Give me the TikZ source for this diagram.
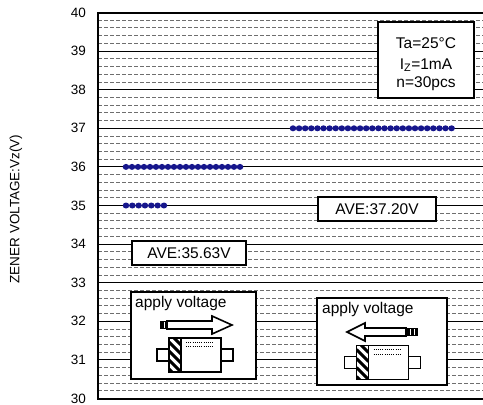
\documentclass[tikz,border=0pt]{standalone}
\usepackage{fontspec}
\setmainfont{Liberation Sans}
\definecolor{dotblue}{RGB}{22,22,140}
\definecolor{gridgray}{RGB}{110,110,110}
\tikzset{
  gridminor/.style={draw=gridgray, line width=0.9pt, dash pattern=on 4pt off 2pt},
  gridmajor/.style={draw=black, line width=0.9pt},
  frameline/.style={draw=black, line width=2pt},
  ticklabel/.style={anchor=east, inner sep=0pt, font=\fontsize{13.5}{15}\selectfont},
  databox/.style={draw=black, line width=1.4pt, fill=white, inner sep=0pt},
  boxtext/.style={inner sep=0pt, font=\fontsize{15.5}{18}\selectfont},
  dotmark/.style={fill=dotblue},
  symline/.style={draw=black, line width=1.6pt},
}
\newcommand{\mydiode}[2]{%
  \begin{scope}[shift={(#1,#2)}]
    \filldraw[symline, fill=white] (-38,-6) rectangle (-26,6);
    \filldraw[symline, fill=white] (26,-6) rectangle (38,6);
    \filldraw[symline, fill=white] (-26,-17) rectangle (26,17);
    \begin{scope}
      \clip (-26,-17) rectangle (-14,17);
      \foreach \s in {-40,-31,...,40} {
        \draw[line width=3pt] (-26,\s) -- (-14,\s+12);
      }
    \end{scope}
    \draw[symline] (-26,-17) rectangle (-14,17);
    \draw[symline] (-26,-17) rectangle (26,17);
    \draw[line width=1pt, dash pattern=on 1pt off 1.2pt] (-9,-13) -- (18,-13);
    \draw[line width=1pt, dash pattern=on 1pt off 1.2pt] (-9,-8.5) -- (18,-8.5);
  \end{scope}}
\begin{document}
\begin{tikzpicture}[x=1pt,y=-1pt]
\useasboundingbox (0,0) rectangle (483,405);
% grid
\foreach \i in {1,...,49} {
  \pgfmathsetmacro\yy{12.5+\i*38.6/5}
  \draw[gridminor] (98,\yy) -- (483,\yy);
}
\foreach \k in {1,...,9} {
  \pgfmathsetmacro\yy{12.5+\k*38.6}
  \draw[gridmajor] (98,\yy) -- (483,\yy);
}
\draw[frameline] (484,12.5) -- (98,12.5) -- (98,398.5) -- (484,398.5);
% tick labels
\foreach \v in {30,...,40} {
  \pgfmathsetmacro\yy{12.5+(40-\v)*38.6}
  \node[ticklabel] (tick\v) at (86,\yy) {\v};
}
\node[rotate=90, inner sep=0pt, font=\fontsize{13.5}{16}\selectfont] (ytitle) at (16,209) {ZENER VOLTAGE:Vz(V)};
% data
\pgfmathsetmacro\ya{12.5+4*38.6}
\pgfmathsetmacro\yb{12.5+5*38.6}
\pgfmathsetmacro\yc{12.5+3*38.6}
\foreach \k in {0,...,19} { \fill[dotmark] (126+\k*6.0,\ya) ellipse (3.3 and 3.0); }
\foreach \k in {0,...,6} { \fill[dotmark] (126+\k*6.33,\yb) ellipse (3.3 and 3.0); }
\foreach \k in {0,...,26} { \fill[dotmark] (293+\k*6.1,\yc) ellipse (3.3 and 3.0); }
% info box
\node[databox, minimum width=96pt, minimum height=76pt] (info) at (426,60) {};
\node[boxtext] (ta) at (426,43) {Ta=25°C};
\node[boxtext] (iz) at (426,65) {I\textsubscript{Z}=1mA};
\node[boxtext] (nn) at (426,84) {n=30pcs};
% average boxes
\node[databox, minimum width=114pt, minimum height=24pt, boxtext] (ave1) at (189,253) {AVE:35.63V};
\node[databox, minimum width=118pt, minimum height=24pt, boxtext] (ave2) at (377,209) {AVE:37.20V};
% apply voltage boxes
\node[databox, minimum width=125pt, minimum height=87pt] (app1) at (193.5,335.5) {};
\node[databox, minimum width=130pt, minimum height=87pt] (app2) at (382,341.5) {};
\node[boxtext, anchor=west] (app1t) at (135,303) {apply voltage};
\node[boxtext, anchor=west] (app2t) at (322,309) {apply voltage};
% arrow right
\filldraw[symline, fill=white] (167,321) -- (212,321) -- (212,316) -- (232,325) -- (212,334) -- (212,329) -- (167,329) -- cycle;
\fill (160,321) rectangle (167,329);
\draw[white, line width=0.8pt] (164.5,322) -- (164.5,328);
% arrow left
\filldraw[symline, fill=white] (406,328) -- (365,328) -- (365,323) -- (347,332) -- (365,341) -- (365,336) -- (406,336) -- cycle;
\fill (406,328) rectangle (418,336);
\draw[white, line width=0.8pt] (410,329) -- (410,335);
\draw[white, line width=0.8pt] (414,329) -- (414,335);
% diodes
\mydiode{195}{355}
\mydiode{382.5}{362.5}
\end{tikzpicture}
\end{document}
